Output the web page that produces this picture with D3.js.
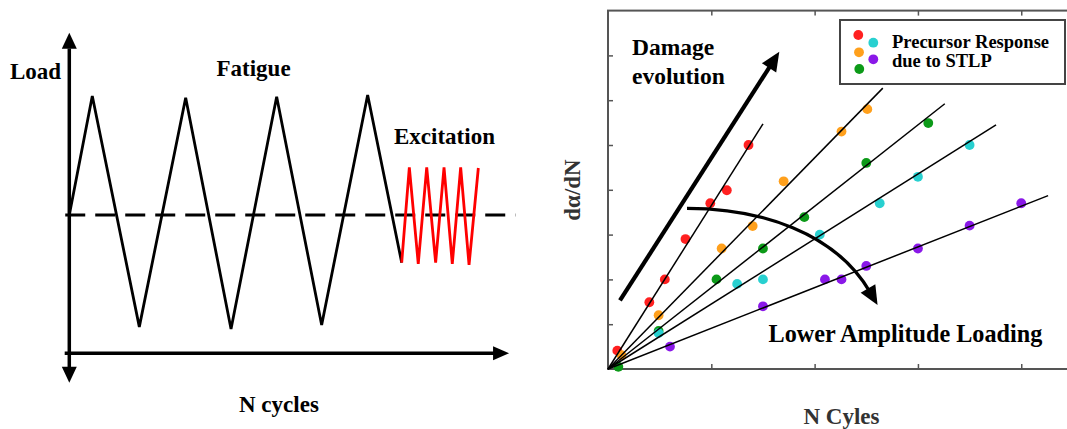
<!DOCTYPE html>
<html>
<head>
<meta charset="utf-8">
<script src="https://cdn.jsdelivr.net/npm/d3@7"></script>
<style>
  body { margin: 0; background: #fff; }
  text { font-family: "Liberation Serif", "Times New Roman", serif; font-weight: bold; }
</style>
</head>
<body>
<div id="chart"></div>
<script>
// Left panel: load history (x in cycles, y in load units around the mean)
const fatigueX = [0, 0.25, 0.761, 1.265, 1.758, 2.254, 2.743, 3.243, 3.613];
const fatigueY = [0, 1.0, -0.94, 0.986, -0.958, 0.994, -0.924, 1.008, -0.40];
const excitationX = [3.613, 3.696, 3.793, 3.885, 3.982, 4.073, 4.163, 4.254, 4.345, 4.446];
const excitationY = [-0.40, 0.40, -0.41, 0.40, -0.40, 0.40, -0.41, 0.40, -0.42, 0.395];

// Right panel: precursor response vs. cycles, one series per loading amplitude
const seriesNames = ["red", "orange", "green", "cyan", "purple"];
const seriesColors = ["#ff2020", "#ffa01c", "#0c9a18", "#28d0d0", "#8a18e8"];
const redX = [0.09, 0.40, 0.55, 0.75, 0.99, 1.15, 1.36];
const redY = [0.41, 1.49, 2.0, 2.9, 3.7, 3.99, 5.0];
const orangeX = [0.13, 0.49, 1.10, 1.40, 1.70, 2.26, 2.51];
const orangeY = [0.31, 1.2, 2.69, 3.19, 4.19, 5.3, 5.8];
const greenX = [0.10, 0.49, 1.05, 1.50, 1.90, 2.50, 3.10];
const greenY = [0.05, 0.85, 2.0, 2.69, 3.39, 4.6, 5.49];
const cyanX = [0.49, 1.25, 1.50, 2.05, 2.63, 3.0, 3.50];
const cyanY = [0.8, 1.9, 2.0, 3.0, 3.7, 4.29, 5.0];
const purpleX = [0.60, 1.50, 2.10, 2.26, 2.50, 3.0, 3.50, 4.0];
const purpleY = [0.5, 1.4, 2.0, 2.0, 2.3, 2.69, 3.2, 3.7];
// fitted lines start at the origin and end here
const fitEndX = [1.50, 2.66, 3.26, 3.756, 4.26];
const fitEndY = [5.47, 6.27, 5.92, 5.45, 3.87];

const xTicks = [1, 2, 3, 4];
const yTicks = [1, 2, 3, 4, 5, 6, 7];

const width = 1067;
const height = 429;

const svg = d3.select("#chart")
    .append("svg")
    .attr("width", width)
    .attr("height", height);

// filled arrow head, tip at (x, y), pointing along (dx, dy)
function arrowHead(g, x, y, dx, dy, len, half) {
    const n = Math.hypot(dx, dy);
    const ux = dx / n, uy = dy / n;
    const bx = x - ux * len, by = y - uy * len;
    g.append("path")
        .attr("d", `M${x},${y}L${bx - uy * half},${by + ux * half}L${bx + uy * half},${by - ux * half}Z`)
        .attr("fill", "#000");
}

// ---------- left panel ----------
const xL = d3.scaleLinear().domain([0, 1]).range([69.3, 161.3]);
const yL = d3.scaleLinear().domain([0, 1]).range([215, 96]);
const left = svg.append("g");

// mean load (dashed)
left.append("line")
    .attr("x1", xL(-0.055)).attr("x2", xL(4.85))
    .attr("y1", yL(0)).attr("y2", yL(0))
    .attr("stroke", "#000")
    .attr("stroke-width", 2.8)
    .attr("stroke-dasharray", "20,10")
    .attr("stroke-dashoffset", 29);

// axes
left.append("line")
    .attr("x1", xL(0)).attr("x2", xL(0))
    .attr("y1", yL(1.40)).attr("y2", yL(-1.28))
    .attr("stroke", "#000").attr("stroke-width", 3.5);
left.append("line")
    .attr("x1", xL(-0.05)).attr("x2", xL(4.62))
    .attr("y1", yL(-1.162)).attr("y2", yL(-1.162))
    .attr("stroke", "#000").attr("stroke-width", 3.5);
arrowHead(left, xL(0), yL(1.532), 0, -1, 16, 7.5);
arrowHead(left, xL(0), yL(-1.409), 0, 1, 16, 7.5);
arrowHead(left, xL(4.78), yL(-1.162), 1, 0, 16, 7);

const loadLine = d3.line()
    .x(d => xL(d[0]))
    .y(d => yL(d[1]));

left.append("path")
    .attr("d", loadLine(d3.zip(fatigueX, fatigueY)))
    .attr("fill", "none")
    .attr("stroke", "#000")
    .attr("stroke-width", 2.8)
    .attr("stroke-linejoin", "miter");

left.append("path")
    .attr("d", loadLine(d3.zip(excitationX, excitationY)))
    .attr("fill", "none")
    .attr("stroke", "#ff0000")
    .attr("stroke-width", 2.8);

left.append("text").attr("x", 10).attr("y", 79).attr("font-size", 23).text("Load");
left.append("text").attr("x", 216.5).attr("y", 76).attr("font-size", 23).text("Fatigue");
left.append("text").attr("x", 394).attr("y", 144).attr("font-size", 23).text("Excitation");
left.append("text").attr("x", 239).attr("y", 411.5).attr("font-size", 23).text("N cycles");

// ---------- right panel ----------
const xR = d3.scaleLinear().domain([0, 4.5]).range([608, 1072.9]);
const yR = d3.scaleLinear().domain([0, 8]).range([369, 10.6]);
const right = svg.append("g");

// frame
right.append("rect")
    .attr("x", xR(0)).attr("y", yR(8))
    .attr("width", xR(4.5) - xR(0))
    .attr("height", yR(0) - yR(8))
    .attr("fill", "none")
    .attr("stroke", "#555")
    .attr("stroke-width", 2);

// inward ticks, no labels
const tickAxes = [
    [d3.axisBottom(xR).tickValues(xTicks), `translate(0,${yR(0)})`],
    [d3.axisTop(xR).tickValues(xTicks), `translate(0,${yR(8)})`],
    [d3.axisLeft(yR).tickValues(yTicks), `translate(${xR(0)},0)`]
];
tickAxes.forEach(([ax, tr]) => {
    const g = right.append("g")
        .attr("transform", tr)
        .call(ax.tickSize(-5).tickFormat(""));
    g.select(".domain").remove();
    g.selectAll(".tick line").attr("stroke", "#555").attr("stroke-width", 1.5);
});

// dots
const seriesX = [redX, orangeX, greenX, cyanX, purpleX];
const seriesY = [redY, orangeY, greenY, cyanY, purpleY];
seriesNames.forEach((name, i) => {
    right.selectAll(".dot-" + name)
        .data(d3.zip(seriesX[i], seriesY[i]))
        .enter()
        .append("circle")
        .attr("class", "dot-" + name)
        .attr("cx", d => xR(d[0]))
        .attr("cy", d => yR(d[1]))
        .attr("r", 4.9)
        .attr("fill", seriesColors[i]);
});

// fitted lines through the origin
right.selectAll(".fit")
    .data(d3.zip(fitEndX, fitEndY))
    .enter()
    .append("line")
    .attr("class", "fit")
    .attr("x1", xR(0)).attr("y1", yR(0))
    .attr("x2", d => xR(d[0]))
    .attr("y2", d => yR(d[1]))
    .attr("stroke", "#000")
    .attr("stroke-width", 1.5);

// damage evolution arrow
const dmgStart = [0.116, 1.53], dmgTip = [1.658, 7.08];
const dx = xR(dmgTip[0]) - xR(dmgStart[0]), dy = yR(dmgTip[1]) - yR(dmgStart[1]);
const dn = Math.hypot(dx, dy);
right.append("line")
    .attr("x1", xR(dmgStart[0])).attr("y1", yR(dmgStart[1]))
    .attr("x2", xR(dmgTip[0]) - dx / dn * 14).attr("y2", yR(dmgTip[1]) - dy / dn * 14)
    .attr("stroke", "#000").attr("stroke-width", 4.2);
arrowHead(right, xR(dmgTip[0]), yR(dmgTip[1]), dx, dy, 19, 8.5);

// lower amplitude loading curved arrow
const curve = [[0.765, 3.587], [1.471, 3.587], [2.197, 3.058], [2.536, 1.719]];
const p = d3.path();
p.moveTo(xR(curve[0][0]), yR(curve[0][1]));
p.bezierCurveTo(xR(curve[1][0]), yR(curve[1][1]), xR(curve[2][0]), yR(curve[2][1]), xR(curve[3][0]), yR(curve[3][1]));
right.append("path")
    .attr("d", p.toString())
    .attr("fill", "none")
    .attr("stroke", "#000")
    .attr("stroke-width", 3.3);
const cdx = xR(curve[3][0]) - xR(curve[2][0]), cdy = yR(curve[3][1]) - yR(curve[2][1]);
const cn = Math.hypot(cdx, cdy);
arrowHead(right, xR(curve[3][0]) + cdx / cn * 15, yR(curve[3][1]) + cdy / cn * 15, cdx, cdy, 19, 8.5);

// annotations
right.append("text").attr("x", 632).attr("y", 55).attr("font-size", 23.5).text("Damage");
right.append("text").attr("x", 632).attr("y", 83.5).attr("font-size", 23.5).text("evolution");
right.append("text").attr("x", 768.5).attr("y", 341.5).attr("font-size", 24.2).text("Lower Amplitude Loading");

// axis titles
right.append("text")
    .attr("x", 803.5).attr("y", 424)
    .attr("font-size", 23)
    .attr("fill", "#333")
    .text("N Cyles");
right.append("text")
    .attr("transform", "translate(580,190) rotate(-90)")
    .attr("text-anchor", "middle")
    .attr("font-size", 23)
    .attr("fill", "#333")
    .text("dα/dN");

// legend
const legend = right.append("g");
legend.append("rect")
    .attr("x", 840).attr("y", 20)
    .attr("width", 225).attr("height", 64)
    .attr("fill", "#fff")
    .attr("stroke", "#444")
    .attr("stroke-width", 2);
const legendDots = [[858.3, 35], [859, 52.3], [859.3, 69], [873.3, 42.7], [873.3, 59.3]];
legend.selectAll("circle")
    .data(legendDots)
    .enter()
    .append("circle")
    .attr("cx", d => d[0])
    .attr("cy", d => d[1])
    .attr("r", 4.9)
    .attr("fill", (d, i) => seriesColors[i]);
legend.append("text").attr("x", 892).attr("y", 47.5).attr("font-size", 18.5).text("Precursor Response");
legend.append("text").attr("x", 892).attr("y", 66.7).attr("font-size", 18.5).text("due to STLP");
</script>
</body>
</html>
